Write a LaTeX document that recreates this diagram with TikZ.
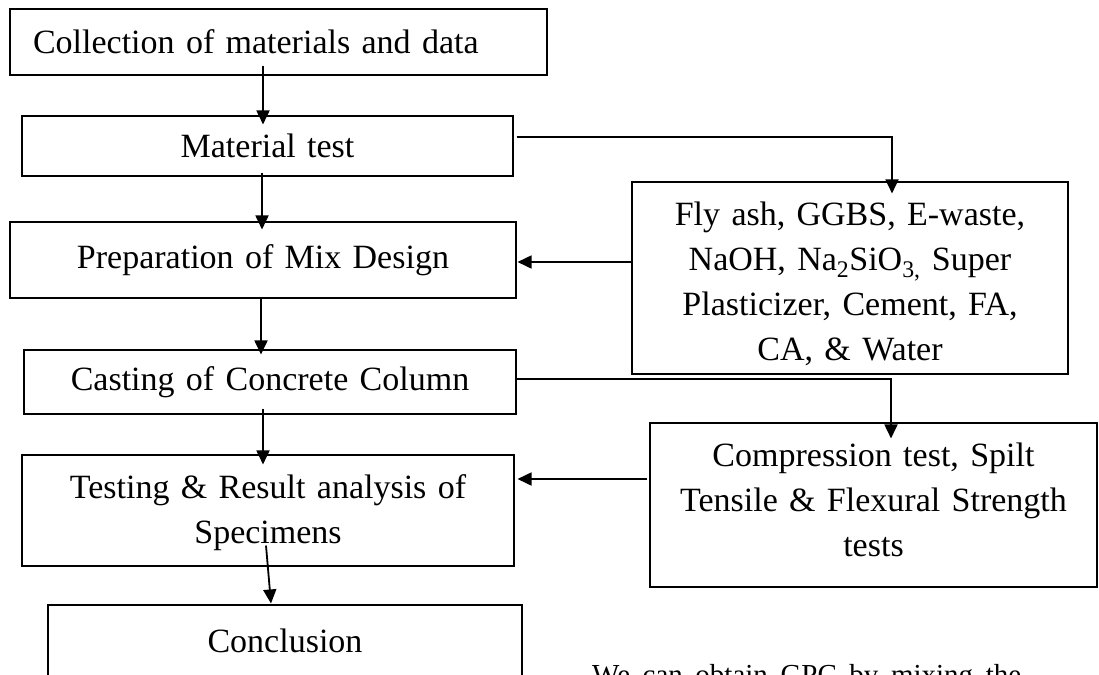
\documentclass[tikz,border=0pt]{standalone}
\usepackage{fontspec}
\setmainfont{Liberation Serif}
\usetikzlibrary{arrows.meta,calc}
\newcommand\fsbig{\fontsize{34}{45}\selectfont}
\begin{document}
\begin{tikzpicture}[x=1pt,y=-1pt,
  box/.style={draw=black, line width=1.1pt, inner sep=0pt, align=center, font=\fsbig},
  arr/.style={line width=1.8pt, -{Triangle[length=14pt,width=13pt]}},
  ln/.style={line width=1.8pt}]
\useasboundingbox (0,0) rectangle (1099,674);
\clip (0,0) rectangle (1099,674);
\fill[white] (0,0) rectangle (1099,674);
% left column
\node[box, text width=491pt, inner xsep=23pt, align=left, minimum height=66pt] (b1) at (278.5,42) {Collection of materials and data};
\node[box, text width=491pt, minimum height=60pt] (b2) at (267.5,146) {Material test};
\node[box, text width=506pt, minimum height=76pt] (b3) at (263,260) {Preparation of Mix Design};
\node[box, text width=492pt, minimum height=64pt] (b4) at (270,382) {Casting of Concrete Column};
\node[box, text width=492pt, minimum height=111pt] (b5) at (268,510.5) {\rule{0pt}{28pt}Testing \& Result analysis of\\Specimens};
\node[box, text width=474pt, minimum height=71pt] (b6) at (285,640.5) {Conclusion};
% right column
\node[box, text width=436pt, minimum height=192pt] (fly) at (850,278) {\rule{0pt}{35pt}Fly ash, GGBS, E-waste,\\NaOH, Na\textsubscript{2}SiO\textsubscript{3,} Super\\Plasticizer, Cement, FA,\\CA, \& Water};
\node[box, text width=447pt, minimum height=164pt] (comp) at (873.5,505) {Compression test, Spilt\\Tensile \& Flexural Strength\\tests\rule[-10pt]{0pt}{10pt}};
% stray text
\node[anchor=base west, inner sep=0pt, font=\fontsize{29}{35}\selectfont] (txt) at (592,684) {\makebox[429pt][s]{We can obtain GPC by mixing the}};
% connectors
\draw[arr] ($(b1.south)+(-15.5,-10)$) -- ($(b2.north)+(-4.5,9)$);
\draw[arr] ($(b2.south)+(-5.5,-4)$) -- ($(b3.north)+(-1,8)$);
\draw[arr] ($(b3.south)+(-2,0)$) -- ($(b4.north)+(-9,5)$);
\draw[arr] ($(b4.south)+(-7,-6)$) -- ($(b5.north)+(-5,10)$);
\draw[arr] ($(b5.south)+(-2,-21)$) -- ($(b6.north)+(-14,-1)$);
\draw[arr] ($(b2.east)+(3,-9)$) -| ($(fly.north)+(42,12)$);
\draw[arr] ($(fly.west)+(0,-16)$) -- ($(b3.east)+(1,2)$);
\draw[arr] ($(b4.east)+(0,-3)$) -| ($(comp.north)+(17.5,16)$);
\draw[arr] ($(comp.west)+(-2,-26)$) -- ($(b5.east)+(3,-31.5)$);
\end{tikzpicture}
\end{document}
